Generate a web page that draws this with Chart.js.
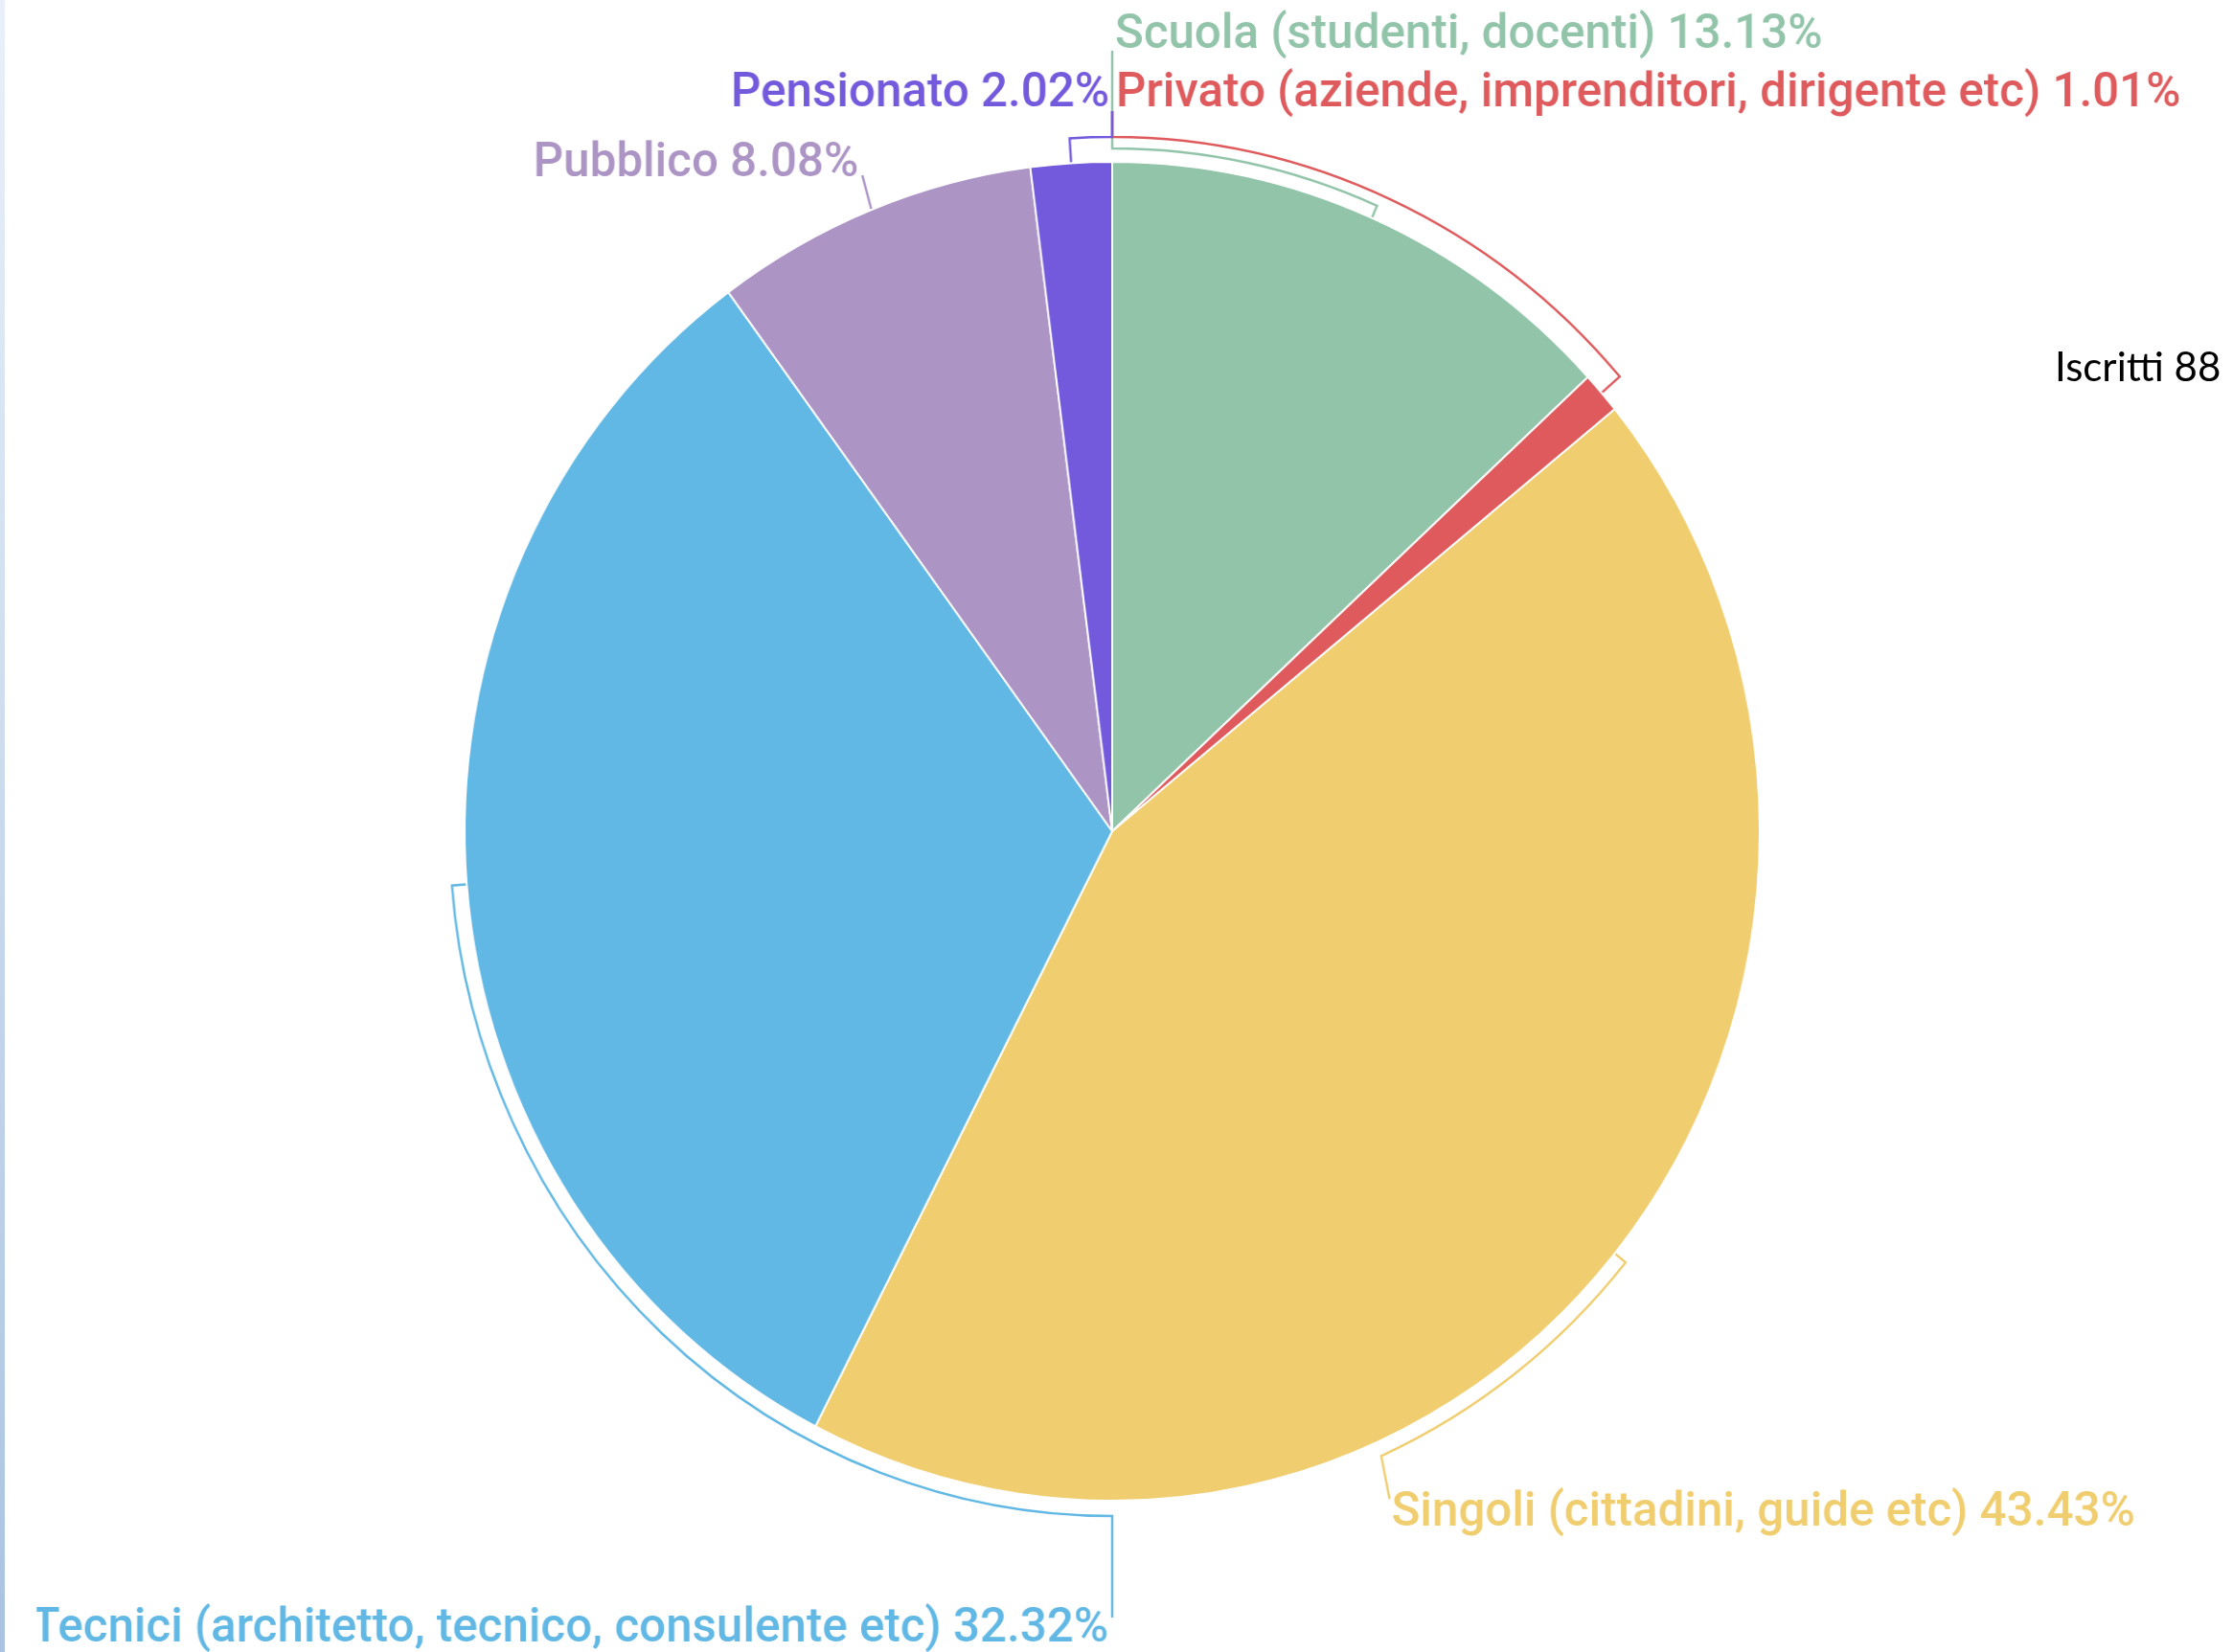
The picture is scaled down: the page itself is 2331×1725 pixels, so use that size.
<!DOCTYPE html>
<html>
<head>
<meta charset="utf-8">
<script src="https://cdn.jsdelivr.net/npm/chart.js@4.4.1/dist/chart.umd.min.js"></script>
<style>
  html, body { margin: 0; padding: 0; background: #fff; }
  body { width: 2331px; height: 1725px; position: relative; overflow: hidden; }
  #bar { position: absolute; left: 0; top: 0; width: 5px; height: 1725px; background: linear-gradient(#e9f0f9, #aac3e2); }
  #chart { position: absolute; left: 0; top: 0; width: 2331px; height: 1725px; transform: scaleX(0.967); transform-origin: 1161px 868px; }
  #title { position: absolute; left: 2145px; top: 361px; font-family: Lato, sans-serif; font-size: 42px; line-height: 42px; color: #000; white-space: nowrap; }
</style>
</head>
<body>
<div id="bar"></div>
<canvas id="chart" width="2331" height="1725"></canvas>
<div id="title"></div>
<script>
// dati (ordine orario a partire dalle ore 12)
const categories = [
    'Scuola (studenti, docenti)',
    'Privato (aziende, imprenditori, dirigente etc)',
    'Singoli (cittadini, guide etc)',
    'Tecnici (architetto, tecnico, consulente etc)',
    'Pubblico',
    'Pensionato'
];
const percentages = [13.13, 1.01, 43.43, 32.32, 8.08, 2.02];
const colors = ['#91c4a9', '#de5a5c', '#f0cd6e', '#62b8e4', '#ac94c5', '#7359dc'];
const chartTitle = 'Iscritti 88';

// posizione delle etichette: angolo di aggancio (gradi da ore 12), distanza della parentesi,
// segmento verso il testo e scostamento del testo
const labelLayout = [
    { anchor: 0,    gap: 14, leader: [0, -102], text: [3, -3],  align: 'left' },
    { anchor: 0,    gap: 26, leader: [0, -27],  text: [4, -5],  align: 'left' },
    { anchor: 156,  gap: 15, leader: [9, 45],   text: [2, 28],  align: 'left' },
    { anchor: 180,  gap: 16, leader: [0, 106],  text: [-4, 25], align: 'right' },
    { anchor: null, gap: 0,  leader: [-10, -36], text: [-4, 1], align: 'right' },
    { anchor: 360,  gap: 26, leader: [0, -27],  text: [-3, -5], align: 'right' }
];
const TEXT_SX = 1.02;

document.getElementById('title').textContent = chartTitle;

function toRad(deg) {
    return (deg - 90) * Math.PI / 180;
}

const bracketLabels = {
    id: 'bracketLabels',
    afterDatasetsDraw(chart) {
        const ctx = chart.ctx;
        const meta = chart.getDatasetMeta(0);
        meta.data.forEach((arc, i) => {
            const lay = labelLayout[i];
            const { x, y, startAngle, endAngle, outerRadius } =
                arc.getProps(['x', 'y', 'startAngle', 'endAngle', 'outerRadius'], true);
            const mid = (startAngle + endAngle) / 2;
            const anchor = lay.anchor === null ? mid : toRad(lay.anchor);
            const r = outerRadius + lay.gap;

            ctx.save();
            ctx.strokeStyle = colors[i];
            ctx.lineWidth = 2.5;
            ctx.beginPath();
            ctx.moveTo(x + Math.cos(mid) * (outerRadius + 1), y + Math.sin(mid) * (outerRadius + 1));
            if (lay.gap > 0) {
                ctx.arc(x, y, r, mid, anchor, anchor < mid);
            }
            const px = x + Math.cos(anchor) * r;
            const py = y + Math.sin(anchor) * r;
            const lx = px + lay.leader[0];
            const ly = py + lay.leader[1];
            ctx.lineTo(lx, ly);
            ctx.stroke();

            ctx.translate(lx + lay.text[0], ly + lay.text[1]);
            ctx.scale(TEXT_SX, 1);
            ctx.font = '500 50px Roboto';
            ctx.fillStyle = colors[i];
            ctx.textAlign = lay.align;
            ctx.textBaseline = 'alphabetic';
            ctx.fillText(categories[i] + ' ' + percentages[i].toFixed(2) + '%', 0, 0);
            ctx.restore();
        });
    }
};

const ctx = document.getElementById('chart').getContext('2d');
const chart = new Chart(ctx, {
    type: 'pie',
    data: {
        labels: categories,
        datasets: [
            {
                data: percentages,
                backgroundColor: colors,
                borderColor: '#ffffff',
                borderWidth: 2
            }
        ]
    },
    options: {
        responsive: false,
        devicePixelRatio: 1,
        animation: false,
        layout: {
            padding: { left: 461, right: 470, top: 168, bottom: 157 }
        },
        plugins: {
            legend: { display: false },
            tooltip: { enabled: false }
        }
    },
    plugins: [bracketLabels]
});
</script>
</body>
</html>
